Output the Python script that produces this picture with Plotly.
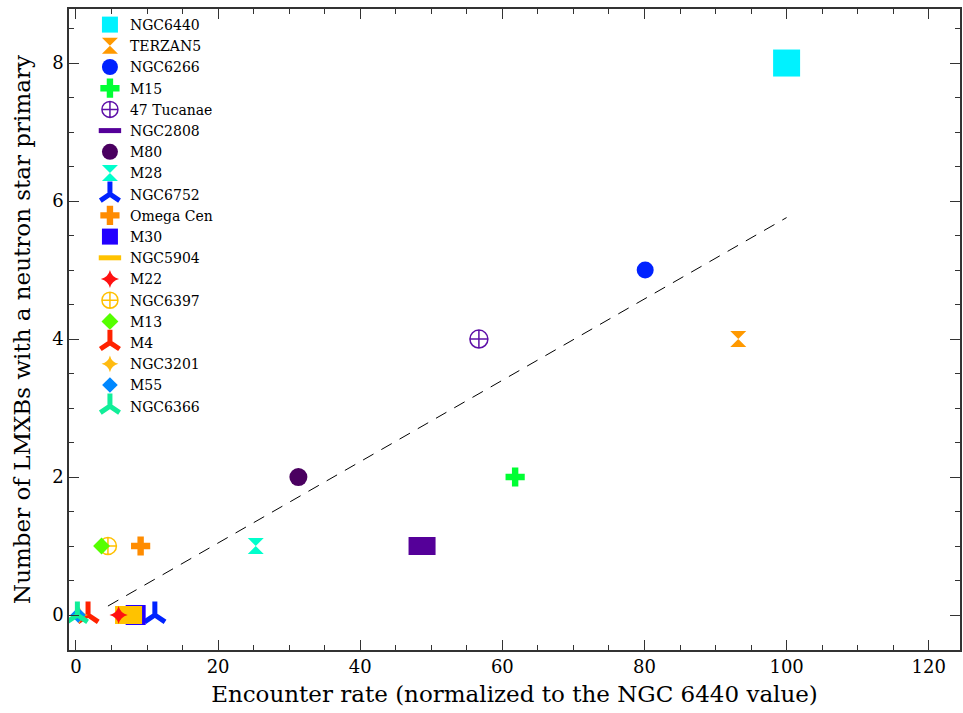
import plotly.graph_objects as go

# ---- data ----
clusters = ["NGC6440", "TERZAN5", "NGC6266", "M15", "47 Tucanae", "NGC2808", "M80",
            "M28", "NGC6752", "Omega Cen", "M30", "NGC5904", "M22", "NGC6397",
            "M13", "M4", "NGC3201", "M55", "NGC6366"]
encounter_rate = [100.0, 93.2, 80.1, 61.8, 56.7, 48.7, 31.3, 25.3, 11.1, 9.1, 8.4,
                  7.4, 6.0, 4.5, 3.6, 1.7, 0.5, 0.3, 0.2]
n_lmxb = [8, 4, 5, 2, 4, 1, 2, 1, 0, 1, 0, 0, 0, 1, 1, 0, 0, 0, 0]

fit_x = [4.5, 100.0]
fit_y = [0.13, 5.76]

# ---- styles ----
colors = ["#00F2FF", "#FF9900", "#0022FF", "#00FF33", "#5E10A8", "#550099", "#4A0060",
          "#00FFCC", "#0022FF", "#FF8C00", "#2200FF", "#FFC200", "#FF1111", "#FFC000",
          "#55FF00", "#FF2200", "#FFBB11", "#0088FF", "#11EE99"]
symbols = ["square", "hourglass", "circle", "cross", "circle-cross-open", "line-ew",
           "circle", "hourglass", "y-up", "cross", "square", "line-ew", "star-diamond",
           "circle-cross-open", "diamond", "y-up", "star-diamond", "diamond", "y-up"]
sizes = [27, 16, 17, 16, 18, 19.3, 18, 16, 17, 16, 20, 19.3, 13, 17, 13, 17, 12, 12, 17]
line_widths = [0, 0, 0, 0, 1.5, 18, 0, 0, 5, 0, 0, 18, 0, 1.5, 0, 5, 0, 0, 5]

FONT = "DejaVu Serif"
AXC = "#333333"

fig = go.Figure()

fig.add_trace(go.Scatter(
    x=fit_x, y=fit_y, mode="lines", showlegend=False, hoverinfo="skip",
    line=dict(color="black", width=1, dash="12px,9px")))

for name, xv, yv, c, s, sz, lw in zip(clusters, encounter_rate, n_lmxb, colors,
                                      symbols, sizes, line_widths):
    fig.add_trace(go.Scatter(
        x=[xv], y=[yv], mode="markers", name=name,
        marker=dict(symbol=s, size=sz, color=c,
                    line=dict(color=c, width=lw))))

axis_common = dict(
    showgrid=False, zeroline=False, showline=True, linecolor=AXC, linewidth=1.5,
    mirror="ticks", ticks="inside", ticklen=10, tickwidth=1.2, tickcolor=AXC,
    tickfont=dict(family=FONT, size=18, color="black"),
)

fig.update_xaxes(
    range=[-0.98, 124.4], tick0=0, dtick=20,
    minor=dict(dtick=5, ticks="inside", ticklen=5, tickcolor=AXC, tickwidth=1),
    title=dict(text="Encounter rate (normalized to the NGC 6440 value)",
               font=dict(family=FONT, size=23, color="black"), standoff=10),
    **axis_common)
fig.update_yaxes(
    range=[-0.507, 8.783], tick0=0, dtick=2,
    minor=dict(dtick=0.5, ticks="inside", ticklen=5, tickcolor=AXC, tickwidth=1),
    title=dict(text="Number of LMXBs with a neutron star primary",
               font=dict(family=FONT, size=23, color="black"), standoff=15),
    **axis_common)

fig.update_layout(
    width=963, height=713,
    margin=dict(l=69, r=1, t=9, b=63),
    paper_bgcolor="white", plot_bgcolor="white",
    font=dict(family=FONT, color="black"),
    legend=dict(x=0.0235, y=1.0, xanchor="left", yanchor="top",
                bgcolor="rgba(0,0,0,0)", borderwidth=0,
                font=dict(family=FONT, size=14, color="black"),
                tracegroupgap=0),
    showlegend=True,
)

fig.write_html("out.html")
